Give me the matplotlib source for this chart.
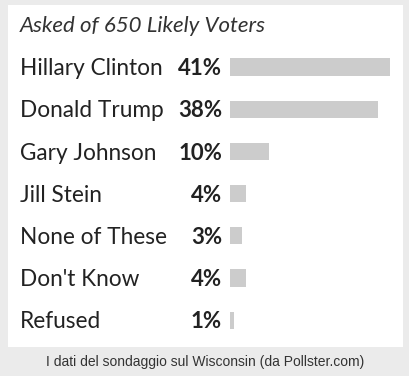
import matplotlib.pyplot as plt
import matplotlib.transforms as mtransforms
from matplotlib.patches import Rectangle

# poll data
candidates = ['Hillary Clinton', 'Donald Trump', 'Gary Johnson', 'Jill Stein',
              'None of These', "Don't Know", 'Refused']
shares = [41, 38, 10, 4, 3, 4, 1]
title = 'Asked of 650 Likely Voters'
caption = 'I dati del sondaggio sul Wisconsin (da Pollster.com)'

W, H = 409, 376
fig = plt.figure(figsize=(W / 100, H / 100), dpi=100)
fig.patch.set_facecolor('#ebebeb')

# white card
fig.patches.append(Rectangle((8 / W, 1 - 347 / H), 395 / W, 342 / H,
                             transform=fig.transFigure, facecolor='white',
                             edgecolor='none', zorder=-1))

# bar axes: 1% = 3.9 px, rows 42.2 px apart
row = 42.2
top = 67 - row / 2
ax = fig.add_axes([230 / W, 1 - (top + row * 7) / H, 41 * 3.9 / W, row * 7 / H])
ax.set_zorder(2)
ax.barh(range(len(candidates)), shares, height=0.41, color='#cccccc', left=0)
ax.set_xlim(0, 41)
ax.set_ylim(len(candidates) - 0.5, -0.5)
ax.axis('off')

trans = mtransforms.blended_transform_factory(fig.transFigure, ax.transData)
for i, (name, val) in enumerate(zip(candidates, shares)):
    ax.text(20 / W, i + 0.04, name, transform=trans, ha='left', va='center',
            fontsize=16.3, family='Lato', color='#222222')
    ax.text(222 / W, i + 0.04, f'{val}%', transform=trans, ha='right', va='center',
            fontsize=16, family='Lato', fontweight='bold', color='#222222')

fig.text(20 / W, 1 - 26 / H, title, ha='left', va='center', fontsize=16,
         family='Lato', style='italic', color='#333333')
fig.text(205 / W, 1 - 362 / H, caption, ha='center', va='center', fontsize=10,
         family='Liberation Sans', color='#333333')

fig.savefig('out.png', dpi=100, facecolor=fig.get_facecolor())
